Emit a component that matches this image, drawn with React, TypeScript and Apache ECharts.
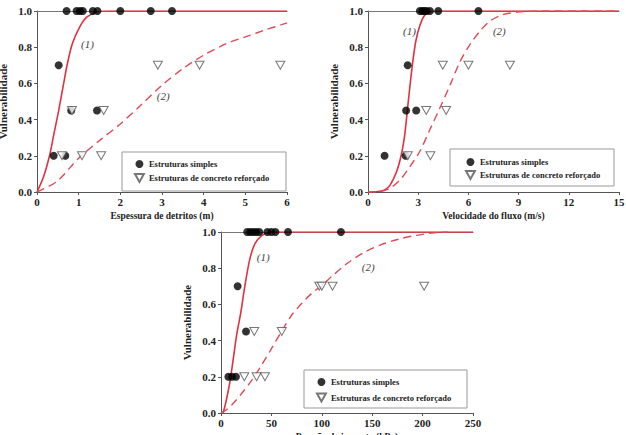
import React, { useEffect, useRef } from 'react';
import * as echarts from 'echarts';

const FONT = "'Liberation Serif', 'Times New Roman', serif";
const TRI = 'path://M0,0L10,0L5,9Z';

const legendNames = ['Estruturas simples', 'Estruturas de concreto reforçado'];
const xTitles = ['Espessura de detritos (m)', 'Velocidade do fluxo (m/s)', 'Pressão de impacto (kPa)'];
const yTitle = 'Vulnerabilidade';
const xMaxes = [6, 15, 250];
const xIntervals = [1, 3, 50];

// Panel 1: debris thickness
const p1Simples = [
  [0.71, 1], [0.95, 1], [1.03, 1], [1.1, 1], [1.34, 1], [1.45, 1], [2.0, 1], [2.73, 1], [3.24, 1],
  [0.52, 0.7], [0.82, 0.45], [1.44, 0.45], [0.4, 0.2], [0.68, 0.2],
];
const p1Concreto = [
  [2.9, 0.7], [3.9, 0.7], [5.84, 0.7], [0.84, 0.45], [1.6, 0.45], [0.6, 0.2], [1.08, 0.2], [1.54, 0.2],
];
const p1Curve1 = [
  [0, 0], [0.16, 0.086], [0.3, 0.2], [0.41, 0.325], [0.52, 0.45], [0.64, 0.6], [0.73, 0.71],
  [0.85, 0.82], [1.02, 0.91], [1.2, 0.967], [1.44, 0.995], [1.7, 1], [6, 1],
];
const p1Curve2 = [
  [0, 0], [0.48, 0.059], [1.0, 0.187], [1.52, 0.288], [2.0, 0.376], [2.47, 0.475], [3.0, 0.59],
  [3.51, 0.683], [4.0, 0.756], [4.55, 0.82], [5.0, 0.857], [5.5, 0.897], [6.0, 0.934],
];

// Panel 2: flow velocity
const p2Simples = [
  [3.1, 1], [3.25, 1], [3.36, 1], [3.5, 1], [3.7, 1], [4.2, 1], [6.6, 1],
  [2.37, 0.7], [2.28, 0.45], [2.88, 0.45], [0.99, 0.2], [2.25, 0.2],
];
const p2Concreto = [
  [4.47, 0.7], [6.0, 0.7], [8.48, 0.7], [3.48, 0.45], [4.67, 0.45], [2.38, 0.2], [3.73, 0.2],
];
const p2Curve1 = [
  [0, 0], [0.7, 0.004], [1.0, 0.012], [1.3, 0.035], [1.7, 0.11], [2.0, 0.21], [2.2, 0.32],
  [2.35, 0.45], [2.5, 0.58], [2.65, 0.7], [2.85, 0.83], [3.1, 0.92], [3.4, 0.978], [3.8, 0.997],
  [4.3, 1], [15, 1],
];
const p2Curve2 = [
  [0, 0], [0.8, 0.004], [1.3, 0.02], [1.9, 0.065], [2.5, 0.14], [3.1, 0.225], [3.7, 0.345],
  [4.3, 0.465], [4.9, 0.59], [5.5, 0.72], [6.1, 0.815], [6.7, 0.89], [7.3, 0.945], [8.0, 0.978],
  [9.0, 0.995], [10.5, 1], [15, 1],
];

// Panel 3: impact pressure
const p3Simples = [
  [26, 1], [29, 1], [32, 1], [35, 1], [38, 1], [46, 1], [50, 1], [54, 1], [66.5, 1], [119, 1],
  [16.5, 0.7], [24.8, 0.45], [7.3, 0.2], [11, 0.2], [14.8, 0.2],
];
const p3Concreto = [
  [97.5, 0.7], [100, 0.7], [110.6, 0.7], [201.5, 0.7], [33, 0.45], [60.3, 0.45],
  [23.1, 0.2], [35.3, 0.2], [43.6, 0.2],
];
const p3Curve1 = [
  [0, 0], [2.3, 0.007], [5.6, 0.08], [8.9, 0.173], [12.2, 0.3], [15.5, 0.43], [19.8, 0.56],
  [23.8, 0.706], [28.7, 0.853], [33.7, 0.936], [40.3, 0.98], [46.9, 0.996], [53.5, 1], [250, 1],
];
const p3Curve2 = [
  [0, 0], [2.3, 0.004], [10.6, 0.044], [20.5, 0.108], [30.4, 0.18], [40.3, 0.265], [50.2, 0.357],
  [60, 0.45], [70, 0.54], [80, 0.605], [89.8, 0.66], [99, 0.7], [110, 0.755], [126, 0.83],
  [142.7, 0.89], [159, 0.93], [176, 0.96], [192, 0.98], [209, 0.994], [225, 1.0],
];

const curveLabels = [
  [[1.21, 0.815], [3.03, 0.53]],
  [[2.48, 0.89], [7.85, 0.89]],
  [[41.9, 0.862], [146, 0.807]],
];

const panels = [
  { simples: p1Simples, concreto: p1Concreto, c1: p1Curve1, c2: p1Curve2 },
  { simples: p2Simples, concreto: p2Concreto, c1: p2Curve1, c2: p2Curve2 },
  { simples: p3Simples, concreto: p3Concreto, c1: p3Curve1, c2: p3Curve2 },
];

const grids = [
  { left: 37, top: 11, width: 250, height: 181 },
  { left: 368, top: 11, width: 251, height: 181 },
  { left: 221, top: 232, width: 252, height: 181 },
];
const legendPos = [
  { box: [122, 152, 164, 39], left: 134, top: 159.5, gap: 4.5 },
  { box: [450, 149, 164, 37], left: 465, top: 157.5, gap: 3.5 },
  { box: [304, 370, 163, 38], left: 316, top: 377.5, gap: 6 },
];

const RED = '#e0323e';

function buildOption() {
  const xAxis: any[] = [];
  const yAxis: any[] = [];
  const series: any[] = [];
  const legend: any[] = [];
  const graphic: any[] = [];
  const txt = { fontFamily: FONT, fontWeight: 'bold', color: '#222' };

  grids.forEach((g, i) => {
    xAxis.push({
      gridIndex: i, type: 'value', min: 0, max: xMaxes[i], interval: xIntervals[i],
      name: xTitles[i], nameLocation: 'middle', nameGap: 19,
      nameTextStyle: { ...txt, fontSize: 9.5 },
      axisLine: { show: true, onZero: false, lineStyle: { color: '#555' } },
      axisTick: { show: true, length: 3, lineStyle: { color: '#555' } },
      axisLabel: { ...txt, fontSize: 11, margin: 4 },
      splitLine: { show: false },
    });
    yAxis.push({
      gridIndex: i, type: 'value', min: 0, max: 1, interval: 0.2,
      name: yTitle, nameLocation: 'middle', nameGap: 29, nameRotate: 90,
      nameTextStyle: { ...txt, fontSize: 11 },
      axisLine: { show: true, onZero: false, lineStyle: { color: '#555' } },
      axisTick: { show: true, length: 3, lineStyle: { color: '#555' } },
      axisLabel: { ...txt, fontSize: 11, margin: 5, formatter: (v: number) => v.toFixed(1) },
      splitLine: { show: false },
    });
  });
  grids.forEach((g, i) => {
    xAxis.push({
      gridIndex: i, type: 'value', position: 'top', min: 0, max: xMaxes[i],
      axisLine: { show: true, onZero: false, lineStyle: { color: '#777' } },
      axisTick: { show: false }, axisLabel: { show: false }, splitLine: { show: false },
    });
  });

  panels.forEach((p, i) => {
    const mk = (k: number, lab: string) => ({
      symbol: 'circle', symbolSize: 0,
      data: [{ coord: curveLabels[i][k] }],
      label: {
        show: true, position: 'inside', formatter: lab,
        fontFamily: FONT, fontStyle: 'italic', fontSize: 11, color: '#444',
      },
    });
    series.push({
      name: 'curve1-' + i, type: 'line', xAxisIndex: i, yAxisIndex: i, data: p.c1,
      showSymbol: false, smooth: 0.3, lineStyle: { color: RED, width: 1.6 }, z: 2,
      markPoint: mk(0, '(1)'),
    });
    series.push({
      name: 'curve2-' + i, type: 'line', xAxisIndex: i, yAxisIndex: i, data: p.c2,
      showSymbol: false, smooth: 0.3, lineStyle: { color: '#e04a56', width: 1.4, type: [8, 5] }, z: 2,
      markPoint: mk(1, '(2)'),
    });
    series.push({
      name: legendNames[0], type: 'scatter', xAxisIndex: i, yAxisIndex: i, data: p.simples,
      symbol: 'circle', symbolSize: 8, itemStyle: { color: '#000' }, z: 3,
    });
    series.push({
      name: legendNames[1], type: 'scatter', xAxisIndex: i, yAxisIndex: i, data: p.concreto,
      symbol: TRI, symbolSize: [9, 8],
      itemStyle: { color: '#fff', borderColor: '#555', borderWidth: 1 }, z: 4,
    });

    const lp = legendPos[i];
    graphic.push({
      type: 'rect', z: 5,
      shape: { x: lp.box[0], y: lp.box[1], width: lp.box[2], height: lp.box[3] },
      style: { fill: '#fff', stroke: '#999', lineWidth: 1 },
    });
    legend.push({
      orient: 'vertical', left: lp.left, top: lp.top, itemWidth: 9, itemHeight: 8,
      itemGap: lp.gap, padding: 0, selectedMode: false, z: 10,
      data: [
        { name: legendNames[0], icon: 'circle' },
        { name: legendNames[1], icon: TRI },
      ],
      textStyle: { ...txt, fontSize: 8.5 },
    });
  });

  return {
    animation: false,
    backgroundColor: '#fff',
    grid: grids.map((g) => ({ ...g, containLabel: false, outerBoundsMode: 'none' })),
    xAxis, yAxis, series, legend, graphic,
  };
}

export default function App() {
  const ref = useRef<HTMLDivElement>(null);
  useEffect(() => {
    document.body.style.margin = '0';
    const chart = echarts.init(ref.current!, null, { renderer: 'svg' });
    chart.setOption(buildOption() as any);
    return () => chart.dispose();
  }, []);
  return <div ref={ref} style={{ width: 626, height: 435, overflow: 'hidden' }} />;
}
